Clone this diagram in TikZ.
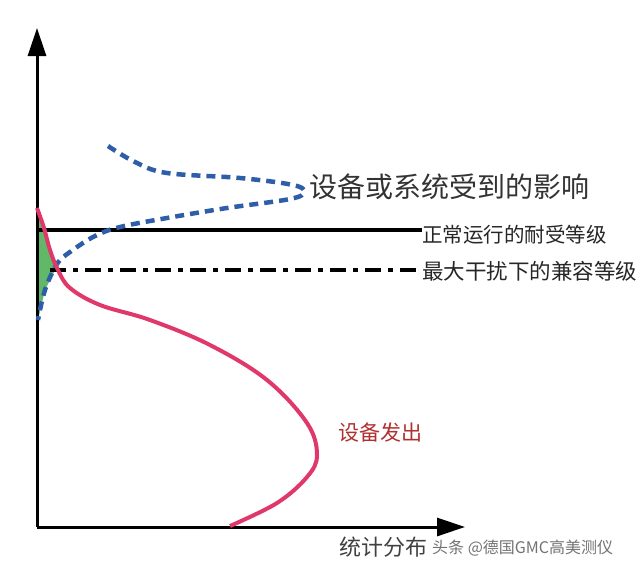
\documentclass[tikz,border=0pt]{standalone}
\usepackage{fontspec}
\newfontfamily\cjk{Noto Sans CJK SC}
\usetikzlibrary{arrows.meta}
\definecolor{curveblue}{RGB}{46,94,168}
\definecolor{curvepink}{RGB}{224,56,106}
\definecolor{fillgreen}{RGB}{96,184,104}
\definecolor{labelred}{RGB}{176,48,48}

\begin{document}
\begin{tikzpicture}[x=1pt, y=-1pt,
  axis/.style = {line width=3pt, -{Triangle[length=28pt,width=18pt]}},
  level/.style = {line width=3.5pt},
  lbl/.style = {anchor=west, inner sep=0pt, font=\cjk\fontsize{20.5}{20.5}\selectfont}]
\useasboundingbox (0,0) rectangle (640,573);
% axes
\coordinate (o) at (37,527);
\coordinate (ytip) at (37,28);
\coordinate (xtip) at (465,527);
% green overlap
\fill[fillgreen] (37,208) -- (44,228) -- (50,250) -- (57,266) -- (45,290) -- (38,320) -- cycle;
\draw[axis] (o) -- (ytip);
\draw[axis] (o) -- (xtip);
% levels
\coordinate (s1) at (37,230);
\coordinate (s2) at (422,230);
\coordinate (d1) at (50,270);
\coordinate (d2) at (422,270);
\draw[level] (s1) -- (s2);
\draw[level, dash pattern=on 16pt off 7pt on 5pt off 7pt] (d1) -- (d2);
% curves
\draw[curveblue, line width=4.5pt, dash pattern=on 9pt off 6pt]
  plot[smooth, tension=0.6] coordinates {(108,146) (135,162) (167,173) (240,178) (293,185)
  (304,192) (290,199) (227,208) (167,218) (120,227) (95,236) (70,252) (57,264) (45,290) (38,320)};
\draw[curvepink, line width=4pt]
  plot[smooth, tension=0.6] coordinates {(37,208) (44,228) (50,250) (58,270) (70,288) (100,305)
  (150,320) (210,345) (267,380) (307,423) (317,455) (307,477) (277,503) (230,526)};
% labels
\node[lbl, font=\cjk\fontsize{28}{28}\selectfont, text=black!80] (effect) at (309,187) {设备或系统受到的影响};
\node[lbl, text=black!85] (immunity) at (422,235) {正常运行的耐受等级};
\node[lbl, font=\cjk\fontsize{21.5}{21.5}\selectfont, text=black!85] (compat) at (422,271) {最大干扰下的兼容等级};
\node[lbl, font=\cjk\fontsize{21}{21}\selectfont, text=labelred] (emission) at (338,433) {设备发出};
\node[lbl, font=\cjk\fontsize{22}{22}\selectfont, text=black!75] (dist) at (339,547) {统计分布};
\node[lbl, font=\cjk\fontsize{16}{16}\selectfont, text=black!55] (mark) at (432,548) {头条 @德国GMC高美测仪};
\end{tikzpicture}
\end{document}
